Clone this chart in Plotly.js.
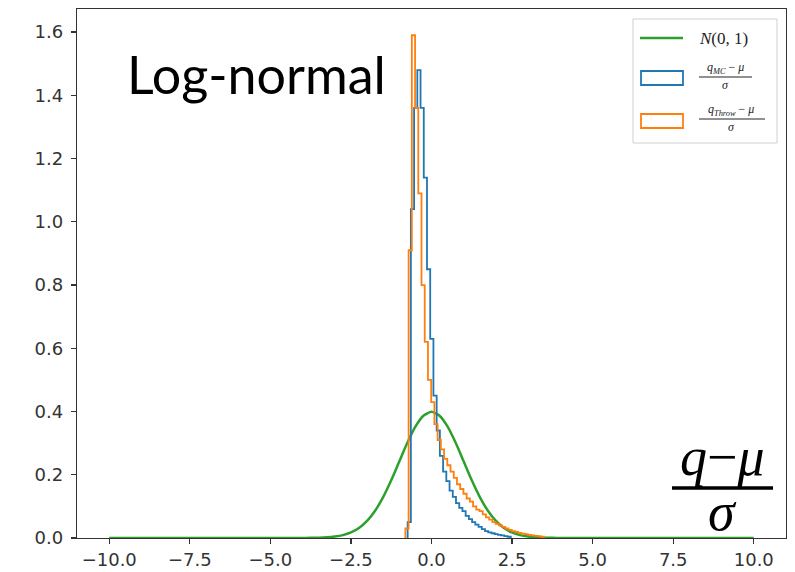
<!DOCTYPE html>
<html><head><meta charset="utf-8">
<script src="https://cdn.plot.ly/plotly-3.0.1.min.js"></script>
<style>html,body{margin:0;padding:0;background:#fff}#chart{width:795px;height:572px}</style>
</head><body><div id="chart"></div>
<script>
// ---- data ----
const binWidth = 0.1;
const mcStart = -0.74;            // left edge of first MC bin
const mcDensity = [0.05, 1.04, 1.36, 1.48, 1.36, 1.14, 0.85, 0.63, 0.45, 0.34,
  0.26, 0.21, 0.18, 0.15, 0.13, 0.11, 0.095, 0.085, 0.07, 0.06,
  0.05, 0.042, 0.035, 0.028, 0.022, 0.018, 0.015, 0.012, 0.01, 0.008, 0.006, 0.004];
const throwStart = -0.81;         // left edge of first Throw bin
const throwDensity = [0.03, 0.91, 1.59, 1.36, 1.09, 0.80, 0.62, 0.50, 0.43, 0.36,
  0.31, 0.28, 0.25, 0.23, 0.21, 0.19, 0.17, 0.155, 0.14, 0.125,
  0.115, 0.10, 0.09, 0.085, 0.075, 0.065, 0.058, 0.05, 0.045, 0.04,
  0.035, 0.03, 0.026, 0.022, 0.019, 0.016, 0.014, 0.012, 0.01, 0.008, 0.007, 0.006, 0.004];
const normalX = [-10, -4, -3.75, -3.5, -3.25, -3, -2.75, -2.5, -2.25, -2, -1.75, -1.5, -1.25, -1, -0.75, -0.5, -0.25,
  0, 0.25, 0.5, 0.75, 1, 1.25, 1.5, 1.75, 2, 2.25, 2.5, 2.75, 3, 3.25, 3.5, 3.75, 4, 10];
const normalY = [0, 0.0001, 0.0004, 0.0009, 0.0020, 0.0044, 0.0091, 0.0175, 0.0317, 0.0540, 0.0863, 0.1295, 0.1826, 0.2420, 0.3011, 0.3521, 0.3867,
  0.3989, 0.3867, 0.3521, 0.3011, 0.2420, 0.1826, 0.1295, 0.0863, 0.0540, 0.0317, 0.0175, 0.0091, 0.0044, 0.0020, 0.0009, 0.0004, 0.0001, 0];
const xTickVals = [-10, -7.5, -5, -2.5, 0, 2.5, 5, 7.5, 10];
const yTickVals = [0, 0.2, 0.4, 0.6, 0.8, 1.0, 1.2, 1.4, 1.6];

const C_BLUE = '#1f77b4', C_ORANGE = '#ff7f0e', C_GREEN = '#2ca02c';

function stepOutline(start, dens) {
  const xs = [start], ys = [0];
  dens.forEach((v, i) => { xs.push(start + i * binWidth); ys.push(v); });
  xs.push(start + dens.length * binWidth); ys.push(0);
  return { xs, ys };
}
const mc = stepOutline(mcStart, mcDensity);
const th = stepOutline(throwStart, throwDensity);

const traces = [
  { x: normalX, y: normalY, type: 'scatter', mode: 'lines', line: { color: C_GREEN, width: 2.5, shape: 'spline', smoothing: 0.6 }, name: 'N(0,1)', hoverinfo: 'skip' },
  { x: mc.xs, y: mc.ys, type: 'scatter', mode: 'lines', line: { color: C_BLUE, width: 1.8, shape: 'hv' }, name: 'MC' },
  { x: th.xs, y: th.ys, type: 'scatter', mode: 'lines', line: { color: C_ORANGE, width: 1.8, shape: 'hv' }, name: 'Throw' }
];

// layout helpers (pixel -> paper)
const L = 77, R = 786, T = 9, B = 538;
const px = v => (v - L) / (R - L);
const py = v => (B - v) / (B - T);

const serif = 'Liberation Serif, DejaVu Serif, serif';
const ann = [
  { text: 'Log-normal', x: px(125), y: py(74), xanchor: 'left', yanchor: 'middle', font: { family: 'Lato, sans-serif', size: 52, color: '#000' } },
  { text: '<i>q</i>−<i>μ</i>', x: px(722), y: py(457), xanchor: 'center', yanchor: 'middle', font: { family: serif, size: 54, color: '#000' } },
  { text: '<i>σ</i>', x: px(722), y: py(512), xanchor: 'center', yanchor: 'middle', font: { family: serif, size: 54, color: '#000' } },
  // legend texts
  { text: '<i>N</i>(0, 1)', x: px(697), y: py(39), xanchor: 'left', yanchor: 'middle', font: { family: serif, size: 17, color: '#222' } },
  { text: '<i>q<sub>MC</sub></i> − <i>μ</i>', x: px(725), y: py(68), xanchor: 'center', yanchor: 'middle', font: { family: serif, size: 12, color: '#222' } },
  { text: '<i>σ</i>', x: px(725), y: py(85), xanchor: 'center', yanchor: 'middle', font: { family: serif, size: 12, color: '#222' } },
  { text: '<i>q<sub>Throw</sub></i> − <i>μ</i>', x: px(731), y: py(110), xanchor: 'center', yanchor: 'middle', font: { family: serif, size: 12, color: '#222' } },
  { text: '<i>σ</i>', x: px(731), y: py(127), xanchor: 'center', yanchor: 'middle', font: { family: serif, size: 12, color: '#222' } }
].map(a => Object.assign({ xref: 'paper', yref: 'paper', showarrow: false }, a));

const shapes = [
  // fraction bar of the axis label
  { type: 'line', x0: px(672), x1: px(773), y0: py(488), y1: py(488), line: { color: '#000', width: 3.5 } },
  // legend frame
  { type: 'rect', x0: px(633), x1: px(777), y0: py(143), y1: py(19), line: { color: '#d0d0d0', width: 1 }, fillcolor: 'rgba(255,255,255,0.85)', layer: 'above' },
  // legend handles
  { type: 'line', x0: px(640), x1: px(683), y0: py(38), y1: py(38), line: { color: C_GREEN, width: 2.5 } },
  { type: 'rect', x0: px(641), x1: px(683), y0: py(85), y1: py(71), line: { color: C_BLUE, width: 1.8 } },
  { type: 'rect', x0: px(641), x1: px(683), y0: py(128), y1: py(114), line: { color: C_ORANGE, width: 1.8 } },
  // legend fraction bars
  { type: 'line', x0: px(699), x1: px(752), y0: py(77), y1: py(77), line: { color: '#222', width: 1 } },
  { type: 'line', x0: px(699), x1: px(765), y0: py(119), y1: py(119), line: { color: '#222', width: 1 } }
].map(s => Object.assign({ xref: 'paper', yref: 'paper' }, s));

const axisCommon = {
  showgrid: false, zeroline: false, showline: true, mirror: true,
  linecolor: '#333', linewidth: 1.3, ticks: 'outside', ticklen: 5, tickwidth: 1.2, tickcolor: '#333',
  tickfont: { family: 'DejaVu Sans, sans-serif', size: 18, color: '#333' }, tickformat: '.1f', tickmode: 'array'
};

const layout = {
  width: 795, height: 572,
  margin: { l: L, r: 795 - R, t: T, b: 572 - B },
  paper_bgcolor: '#fff', plot_bgcolor: '#fff',
  showlegend: false,
  xaxis: Object.assign({}, axisCommon, { range: [-11, 11], tickvals: xTickVals }),
  yaxis: Object.assign({}, axisCommon, { range: [0, 1.673], tickvals: yTickVals, ticklabelstandoff: 4 }),
  annotations: ann,
  shapes: shapes
};

Plotly.newPlot('chart', traces, layout, { displayModeBar: false, staticPlot: true });
</script>
</body></html>
